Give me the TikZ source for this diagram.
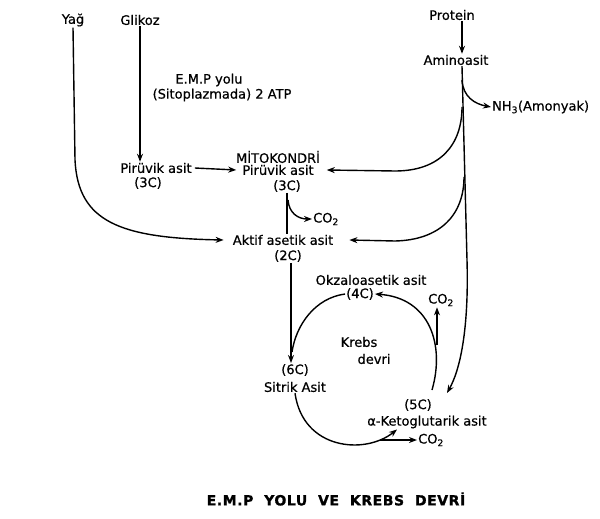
\documentclass[tikz,border=0pt]{standalone}
\usepackage{fontspec}
\setmainfont{DejaVu Sans}
\newfontface\thickfont{DejaVu Sans}[FakeBold=0.6]
\newfontface\titlefont{DejaVu Sans Bold}[FakeBold=1.2,LetterSpace=4]
\usetikzlibrary{arrows.meta}
\begin{document}
\begin{tikzpicture}[x=1pt,y=-1pt,
  lbl/.style={font=\thickfont\fontsize{13}{14}\selectfont, inner sep=1pt},
  ln/.style={line width=1.4pt},
  arr/.style={ln,-{Stealth[length=8pt,width=6pt]}}]
\useasboundingbox (0,0) rectangle (600,519);
% text nodes
\node[lbl] (yag) at (73,20) {Yağ};
\node[lbl] (glikoz) at (140,20) {Glikoz};
\node[lbl] (emp) at (209,80) {E.M.P yolu};
\node[lbl] (sito) at (222,95) {(Sitoplazmada) 2 ATP};
\node[lbl] (protein) at (452,15) {Protein};
\node[lbl] (amino) at (456,60) {Aminoasit};
\node[lbl,anchor=west] (nh3) at (491,107) {NH\textsubscript{3}(Amonyak)};
\node[lbl] (piru1) at (156,168) {Pirüvik asit};
\node[lbl] (c1) at (148,183) {(3C)};
\node[lbl] (mito) at (278,157) {MİTOKONDRİ};
\node[lbl] (piru2) at (278,170) {Pirüvik asit};
\node[lbl] (c2) at (287,186) {(3C)};
\node[lbl,anchor=west] (co2a) at (312,219) {CO\textsubscript{2}};
\node[lbl] (aktif) at (283,240) {Aktif asetik asit};
\node[lbl] (c3) at (288,256) {(2C)};
\node[lbl] (okz) at (371,280) {Okzaloasetik asit};
\node[lbl] (c4) at (360,294) {(4C)};
\node[lbl] (co2b) at (441,300) {CO\textsubscript{2}};
\node[lbl] (krebs) at (359,342) {Krebs};
\node[lbl] (devri) at (374,359) {devri};
\node[lbl] (c6) at (295,370) {(6C)};
\node[lbl] (sitrik) at (295,387) {Sitrik Asit};
\node[lbl] (c5) at (418,405) {(5C)};
\node[lbl] (keto) at (427,422) {α-Ketoglutarik asit};
\node[lbl,anchor=west] (co2c) at (417,440) {CO\textsubscript{2}};
\node[font=\titlefont\fontsize{14}{16}\selectfont] (title) at (336,499) {E.M.P\ \ YOLU\ \ VE\ \ KREBS\ \ DEVRİ};
% helper coordinates
\coordinate (vx) at (462,0);
\coordinate (vx2) at (291,0);
\coordinate (vx3) at (437,0);
\coordinate (b1) at (462,80);
\coordinate (b2) at (462,107);
\coordinate (b3) at (464,177);
\coordinate (b4) at (288,200);
\coordinate (b5) at (380,440);
\coordinate (b6) at (437,345);
\coordinate (t5) at (447,393);
\coordinate (r0) at (432,390);
% connectors
\draw[arr] (yag.south) -- (75,160) .. controls (78,222) and (120,238) .. ([xshift=-8pt]aktif.west);
\draw[arr] (glikoz.south) -- (glikoz.south |- piru1.north);
\draw[arr] ([xshift=2pt]piru1.east) -- ([xshift=-5pt]piru2.west);
\draw[arr] (protein.south -| vx) -- (amino.north -| vx);
\draw[arr] (amino.south -| vx) -- (467,260) .. controls (469,330) and (460,370) .. (t5);
\draw[arr] (b1) .. controls (463,97) and (475,104) .. (nh3.west);
\draw[arr] (b2) .. controls (462,145) and (440,171) .. (395,171) -- ([xshift=12pt]piru2.east);
\draw[arr] (b3) .. controls (464,215) and (440,240) .. (395,241) -- ([xshift=15pt]aktif.east);
\draw[ln] (c2.south) -- (c2.south |- aktif.north);
\draw[arr] (b4) .. controls (289,213) and (298,219) .. (co2a.west);
\draw[arr] (c3.south -| vx2) -- (c6.north -| vx2);
\draw[ln] (c4.west) .. controls (315,298) and (296,325) .. (292,352);
\draw[arr] (sitrik.south) .. controls (303,450) and (365,455) .. ([xshift=-30pt]keto.south);
\draw[arr] (b5) -- (co2c.west);
\draw[arr] (r0) .. controls (445,345) and (430,298) .. (c4.east);
\draw[arr] (b6) -- (co2b.south -| vx3);
\end{tikzpicture}
\end{document}
